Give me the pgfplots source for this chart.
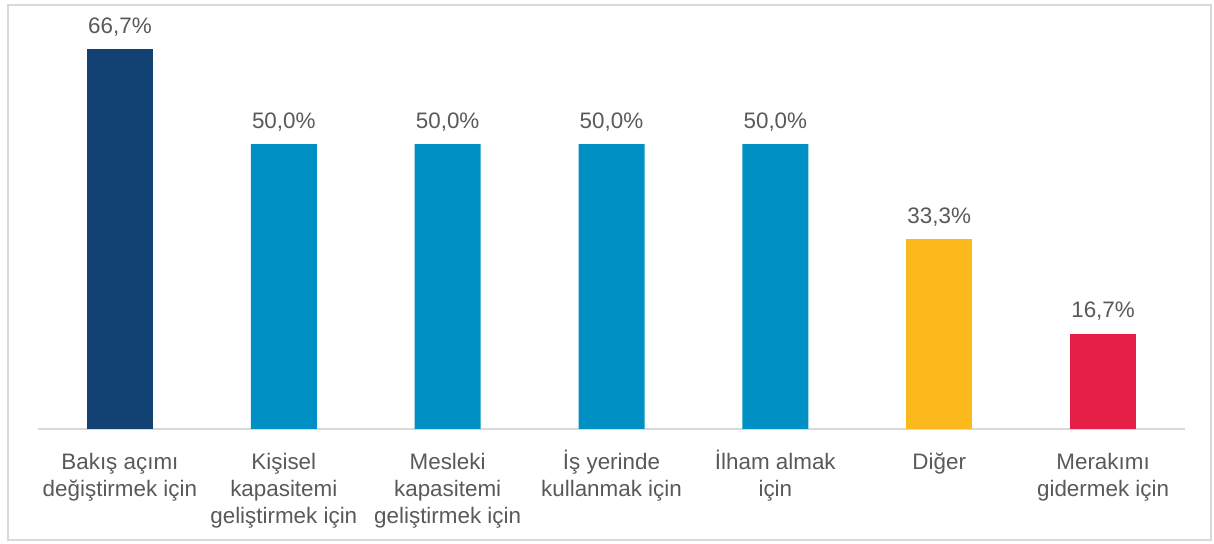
\documentclass[border=0pt]{standalone}
\usepackage{pgfplots}
\pgfplotsset{compat=1.18}
\usepackage{fontspec}
\setmainfont{Liberation Sans}
\definecolor{darkblue}{HTML}{124174}
\definecolor{lightblue}{HTML}{0090C4}
\definecolor{amber}{HTML}{FBB91B}
\definecolor{crimson}{HTML}{E61F48}
\definecolor{labelgray}{HTML}{595959}
\definecolor{linegray}{HTML}{D9D9D9}
\newcommand{\fl}{\vphantom{İ}}
\begin{document}
\begin{tikzpicture}
% page and outer frame (1px = 0.5pt, axis box corner at origin)
\path (-19pt,-57.5pt) rectangle (588pt,214.5pt);
\draw[linegray, line width=0.7pt] (-15pt,-55.5pt) rectangle (586.5pt,212pt);
\begin{axis}[
    scale only axis,
    width=573.5pt, height=204.5pt,
    ybar, bar width=33pt, bar shift=0pt,
    xmin=-0.5, xmax=6.5,
    ymin=0, ymax=71.8,
    axis x line=bottom, axis y line=none,
    x axis line style={-, draw=linegray, line width=0.8pt},
    xtick={0,...,6}, xtick style={draw=none},
    xticklabels={{\fl Bakış açımı\\değiştirmek için},
                 {\fl Kişisel\\kapasitemi\\geliştirmek için},
                 {\fl Mesleki\\kapasitemi\\geliştirmek için},
                 {\fl İş yerinde\\kullanmak için},
                 {\fl İlham almak\\için},
                 {\fl Diğer},
                 {\fl Merakımı\\gidermek için}},
    xticklabel style={align=center, font=\fontsize{11.2}{13.5}\selectfont, text=labelgray, anchor=north, yshift=-5pt},
    ytick=\empty,
    /pgf/number format/assume math mode=true,
    nodes near coords={\pgfmathprintnumber[fixed,fixed zerofill,precision=1,use comma]{\pgfplotspointmeta}\%},
    nodes near coords style={font=\fontsize{11.2}{13}\selectfont, text=labelgray, anchor=south, yshift=3pt},
    clip=false,
]
\addplot[fill=darkblue, draw=none] coordinates {(0,66.7)};
\addplot[fill=lightblue, draw=none] coordinates {(1,50.0) (2,50.0) (3,50.0) (4,50.0)};
\addplot[fill=amber, draw=none] coordinates {(5,33.3)};
\addplot[fill=crimson, draw=none] coordinates {(6,16.7)};
\end{axis}
\end{tikzpicture}
\end{document}
